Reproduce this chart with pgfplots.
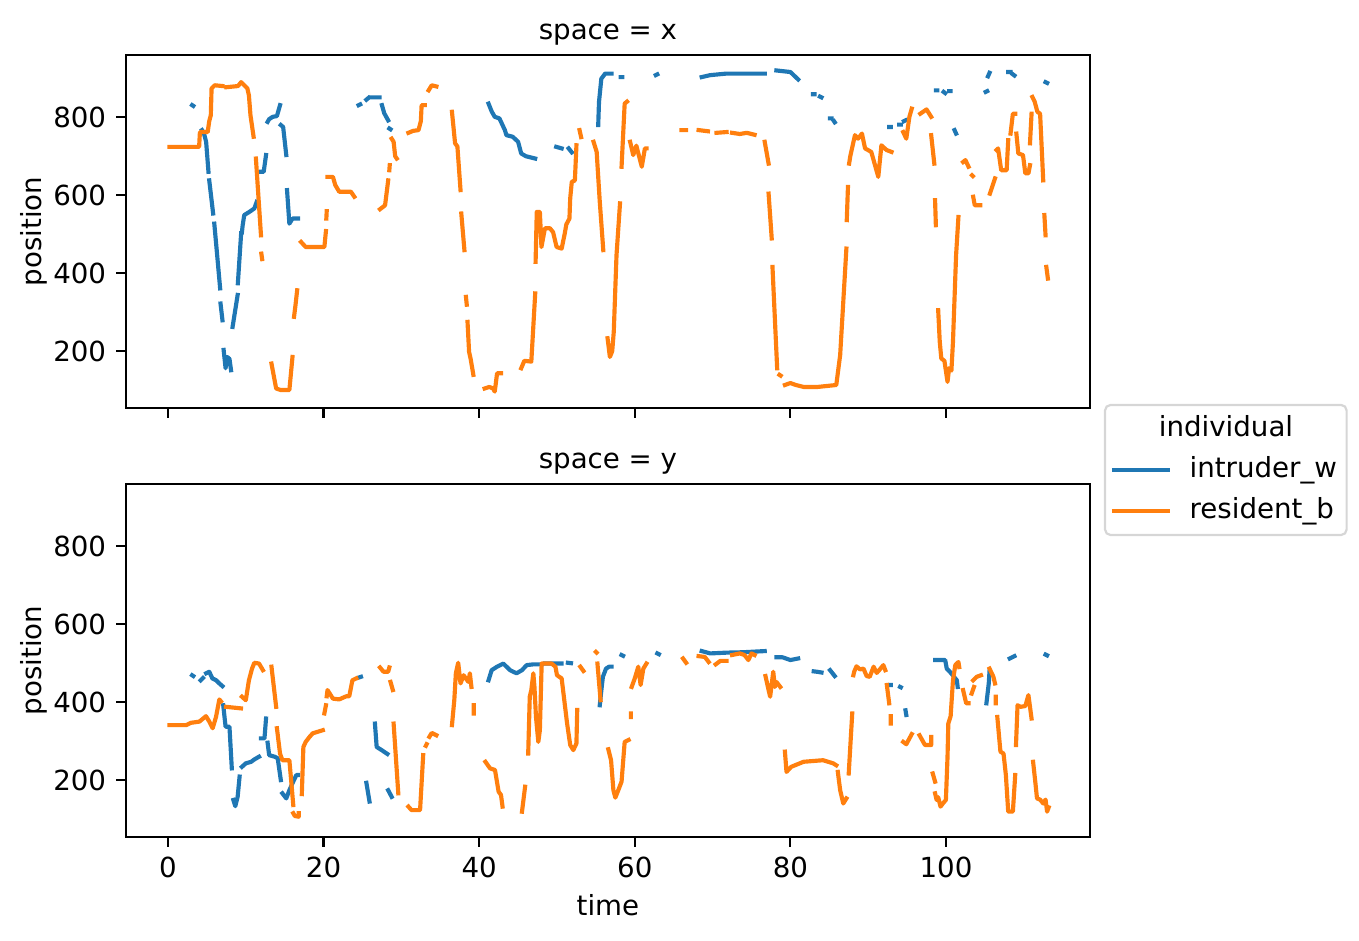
\documentclass[border=0pt]{standalone}
\usepackage{fontspec}
\setmainfont{DejaVu Sans}
\usepackage{pgfplots}
\pgfplotsset{compat=1.18}
\definecolor{C0}{HTML}{1F77B4}
\definecolor{C1}{HTML}{FF7F0E}
\definecolor{legedge}{HTML}{D6D6D6}
\pgfplotsset{
  myaxis/.style={
    scale only axis, width=348.3pt, height=127.6pt,
    xmin=-5.4, xmax=118.5, ymin=54, ymax=960,
    xtick={0,20,...,100}, ytick={200,400,600,800},
    tick align=outside, tick pos=left, major tick length=3.5pt,
    every tick/.style={black, line width=0.8pt},
    axis line style={line width=0.8pt},
    unbounded coords=jump,
    /pgf/number format/assume math mode=true,
    xticklabel style={anchor=base, inner sep=0pt, yshift=-11.13pt},
    yticklabel style={anchor=east, inner sep=0pt, xshift=-3.5pt},
    every axis y label/.style={at={(axis description cs:-0.0880,0.5)}, rotate=90, anchor=base},
    every axis title/.style={at={(axis description cs:0.5,1)}, anchor=base, yshift=5.45pt},
    ylabel={position},
  },
  bl/.style={color=C0, line width=1.5pt, line cap=rect, line join=round},
  or/.style={color=C1, line width=1.5pt, line cap=rect, line join=round},
}
\begin{document}
\begin{tikzpicture}
\path[use as bounding box] (0,0) rectangle (491.07pt,340.03pt);
% ---------------- top axis (space = x)
\begin{axis}[myaxis, at={(45.53pt,192.6pt)}, anchor=south west,
  title={space = x}, xticklabels={},
  legend cell align=left,
  legend image code/.code={\draw[#1, line cap=butt] (0pt,0pt) -- (20.96pt,0pt);},
  legend style={at={(1.0200,-0.1348)}, anchor=north west, draw=none, fill=none,
    inner sep=0pt, row sep=4.9pt, column sep=6.4pt,
    nodes={inner sep=0pt, text height=7.6pt, text depth=2.4pt}},
]
\addplot[bl] coordinates {
(3.1,831)(3.25,829)(3.3,nan)
(4.37,767)(4.6,760)(4.9,737)(5.2,660)(5.2,nan)
(5.3,638)(5.8,553)(5.8,nan)
(5.95,527)(6.3,450)(6.7,361)(6.7,nan)
(6.75,322)(7.0,279)(7,nan)
(7.15,203)(7.4,156)(7.6,185)(7.9,180)(8.1,151)(8.1,nan)
(8.3,262)(8.95,344)(9,nan)
(8.98,374)(9.4,502)(9.4,nan)
(9.5,505)(9.6,523)(9.8,549)(10.45,557)(11.1,566)(11.4,583)(11.4,nan)
(11.95,660)(12.3,660)(12.6,703)(12.6,nan)
(12.8,788)(13.0,795)(13.45,801)(14.0,803)(14.4,831)(14.4,nan)
(14.5,780)(14.8,775)(15.2,703)(15.2,nan)
(15.3,613)(15.6,527)(16.0,540)(16.7,540)(16.7,nan)
(24.5,831)(24.7,833)(24.7,nan)
(25.5,845)(25.8,850)(25.8,nan)
(26.1,851)(26.4,851)(26.4,nan)
(26.8,851)(27.2,851)(27.2,nan)
(27.5,831)(27.8,810)(28.3,792)(28.3,nan)
(28.45,771)(28.6,769)(28.6,nan)
(41.2,835)(41.6,815)(42.0,801)(42.6,797)(43.3,767)(43.5,754)(44.3,750)(45.0,737)(45.4,707)(46.0,700)(47.2,694)(47.2,nan)
(49.9,724)(50.6,720)(50.6,nan)
(51.5,720)(51.9,710)(51.9,nan)
(55.3,780)(55.4,839)(55.7,899)(56.2,912)(57.0,912)(57,nan)
(58.2,903)(58.4,903)(58.4,nan)
(62.7,908)(62.9,910)(62.9,nan)
(68.6,903)(69.7,908)(71.8,912)(74,912)(76.7,912)(76.7,nan)
(78.2,920)(80.0,916)(81.0,897)(81,nan)
(82.9,859)(83.1,859)(83.1,nan)
(83.8,853)(84.0,851)(84,nan)
(85.1,797)(85.3,797)(85.3,nan)
(85.6,790)(85.7,787)(85.7,nan)
(92.7,775)(92.9,775)(92.9,nan)
(94.0,781)(94.2,781)(94.2,nan)
(94.6,790)(94.8,792)(94.8,nan)
(98.7,869)(98.9,869)(98.9,nan)
(99.7,865)(99.9,862)(99.9,nan)
(100.4,867)(100.6,867)(100.6,nan)
(101.1,767)(101.3,758)(101.3,nan)
(105.1,865)(105.3,867)(105.3,nan)
(105.4,905)(105.6,914)(105.6,nan)
(108.0,916)(108.3,916)(108.3,nan)
(108.6,910)(108.8,907)(108.8,nan)
(112.8,890)(113.0,888)
};
\addlegendentry{intruder\_w}
\addplot[or] coordinates {
(0.17,724)(1.5,724)(2.3,724)(2.5,nan)
(2.8,724)(4.0,724)(4.1,762)(5.1,762)(5.3,790)(5.5,805)(5.6,874)(6.0,882)(7.0,880)(7.2,nan)
(7.5,877)(9.0,880)(9.4,890)(10.2,874)(10.4,856)(10.6,805)(11.0,750)(11,nan)
(11.3,694)(11.95,497)(12,nan)
(12.0,450)(12.1,436)(12.1,nan)
(13.3,168)(13.9,104)(14.5,100)(15.6,100)(16.0,185)(16,nan)
(16.2,288)(16.4,320)(16.6,356)(16.6,nan)
(17.1,480)(17.7,467)(20.1,467)(20.3,508)(20.3,nan)
(20.35,540)(20.4,559)(20.4,nan)
(20.5,647)(21.2,647)(21.5,626)(22.0,609)(23.5,609)(23.95,596)(24,nan)
(27.25,564)(27.9,574)(28.3,638)(28.3,nan)
(28.45,664)(28.5,677)(28.5,nan)
(28.75,745)(29.0,737)(29.2,700)(29.4,694)(29.4,nan)
(30.9,760)(31.5,765)(32.2,767)(32.5,790)(32.6,831)(33.0,831)(33,nan)
(33.5,869)(33.9,882)(34.5,879)(34.5,nan)
(36.5,814)(36.9,733)(37.2,725)(37.6,613)(37.6,nan)
(37.7,553)(38.1,459)(38.1,nan)
(38.3,339)(38.4,319)(38.4,nan)
(38.5,275)(38.7,198)(38.9,180)(39.25,139)(39.3,nan)
(40.7,104)(41.3,108)(41.8,104)(42.0,96)(42.3,143)(42.8,143)(42.8,nan)
(45.4,156)(45.8,175)(46.7,173)(47.2,348)(47.2,nan)
(47.25,429)(47.4,557)(47.8,557)(48.0,467)(48.45,515)(49.1,515)(49.5,505)(49.95,467)(50.6,463)(51.0,502)(51.2,525)(51.6,540)(51.7,592)(51.9,634)(52.3,638)(52.5,728)(52.5,nan)
(52.9,767)(53.1,749)(53.1,nan)
(54.7,737)(55.1,711)(55.5,583)(55.95,459)(56,nan)
(56.5,233)(56.8,185)(57.1,200)(57.3,250)(57.65,446)(58.1,579)(58.1,nan)
(58.3,673)(58.7,835)(59.0,840)(59,nan)
(59.4,737)(59.8,703)(60.2,727)(60.9,673)(61.3,720)(61.5,720)(61.5,nan)
(66.0,767)(66.6,767)(66.6,nan)
(68.2,767)(69.4,764)(69.4,nan)
(70.5,760)(71.8,762)(71.8,nan)
(72.5,760)(73.5,757)(74.4,760)(75.4,755)(75.4,nan)
(76.7,737)(77.2,681)(77.2,nan)
(77.2,604)(77.6,489)(77.6,nan)
(77.7,416)(78.3,156)(78.3,nan)
(78.6,139)(78.75,137)(78.8,nan)
(79.3,113)(80.0,118)(80.7,113)(81.7,108)(83.5,108)(85.9,113)(86.4,190)(87.2,463)(87.2,nan)
(87.25,536)(87.4,621)(87.4,nan)
(87.55,681)(87.7,700)(88.3,754)(88.7,745)(89.2,758)(89.6,720)(90.4,711)(91.3,647)(91.7,728)(92.35,716)(93.0,711)(93,nan)
(94.5,762)(94.9,745)(95.3,801)(95.6,822)(95.6,nan)
(96.7,809)(97.5,820)(98.1,801)(98.1,nan)
(98.1,754)(98.5,681)(98.5,nan)
(98.6,587)(98.7,523)(98.7,nan)
(99.0,305)(99.2,224)(99.4,181)(99.8,175)(100.2,121)(100.4,156)(100.7,150)(100.9,224)(101.3,446)(101.6,544)(101.6,nan)
(102.2,685)(102.5,690)(102.9,673)(102.9,nan)
(103.35,651)(103.45,649)(103.45,nan)
(103.5,596)(103.7,574)(104.4,574)(104.4,nan)
(105.65,604)(106.3,643)(106.3,nan)
(106.5,716)(106.7,720)(107.1,664)(107.8,664)(108.0,741)(108,nan)
(108.3,758)(108.6,809)(108.9,809)(108.9,nan)
(109.05,758)(109.3,707)(109.9,703)(110.2,656)(110.6,656)(110.8,677)(110.8,nan)
(110.8,733)(111.0,809)(111,nan)
(111.1,852)(111.4,840)(111.75,814)(112.1,809)(112.5,638)(112.5,nan)
(112.65,549)(112.8,497)(112.8,nan)
(112.9,416)(113.1,386)
};
\addlegendentry{resident\_b}
\end{axis}
% ---------------- bottom axis (space = y)
\begin{axis}[myaxis, at={(45.53pt,37.58pt)}, anchor=south west,
  title={space = y}, xlabel={time},
  every axis x label/.style={at={(axis description cs:0.5,-0.221)}, anchor=base},
]
\addplot[bl] coordinates {
(3.1,469)(3.25,467)(3.3,nan)
(4.2,456)(4.5,462)(4.5,nan)
(4.9,474)(5.3,478)(5.7,461)(6.2,456)(6.6,448)(7.0,441)(7,nan)
(7.1,392)(7.4,337)(7.9,337)(8.2,230)(8.2,nan)
(8.4,149)(8.65,133)(8.95,157)(9.2,209)(9.2,nan)
(9.5,234)(10.0,243)(10.7,247)(11.1,253)(11.7,260)(11.7,nan)
(11.95,307)(12.4,307)(12.6,358)(12.6,nan)
(12.8,296)(13.0,264)(13.7,260)(14.1,256)(14.5,200)(14.5,nan)
(14.7,166)(15.2,153)(15.6,174)(16.0,192)(16.5,213)(16.7,213)(16.7,nan)
(24.5,463)(24.8,465)(24.8,nan)
(25.5,193)(25.9,145)(25.9,nan)
(26.6,345)(26.82,285)(27.46,277)(28.2,267)(28.2,nan)
(28.3,174)(28.75,157)(28.8,nan)
(41.2,456)(41.6,482)(42.3,491)(43.1,499)(43.97,482)(44.8,474)(45.5,482)(46.1,495)(47.0,497)(48.0,497)(48,nan)
(48.5,499)(49.5,499)(49.5,nan)
(50.0,499)(50.6,499)(50.6,nan)
(51.4,501)(51.8,500)(51.8,nan)
(55.5,392)(55.7,430)(55.9,465)(56.3,486)(56.7,491)(57.0,491)(57,nan)
(58.3,521)(58.5,519)(58.5,nan)
(62.9,525)(63.1,523)(63.1,nan)
(68.6,531)(69.7,525)(71.8,527)(73.9,528)(76.7,531)(76.7,nan)
(78.2,515)(79.0,515)(80.0,508)(81.0,512)(81,nan)
(83.0,479)(83.4,478)(83.4,nan)
(83.7,477)(84.0,476)(84,nan)
(85.1,482)(85.7,467)(85.7,nan)
(92.8,444)(92.9,444)(92.9,nan)
(94.1,439)(94.2,438)(94.2,nan)
(94.8,379)(94.9,367)(94.9,nan)
(98.6,508)(99.9,508)(100.1,486)(100.5,478)(101.4,456)(101.5,439)(101.5,nan)
(105.2,397)(105.5,448)(105.6,480)(105.6,nan)
(108.2,512)(108.8,518)(108.8,nan)
(112.8,522)(113.0,520)
};
\addplot[or] coordinates {
(0.17,341)(2.32,341)(2.96,347)(4.03,350)(4.88,364)(5.31,350)(5.74,333)(6.17,362)(6.6,407)(6.8,402)(6.8,nan)
(7.45,388)(9.38,384)(9.4,nan)
(9.5,414)(10.0,405)(10.4,456)(10.8,486)(11.1,501)(11.7,499)(12.2,482)(12.2,nan)
(13.3,491)(13.9,388)(13.9,nan)
(14.0,333)(14.4,268)(14.7,251)(15.6,251)(15.9,183)(16.1,136)(16.1,nan)
(16.1,115)(16.3,108)(16.8,106)(16.8,115)(16.8,nan)
(17.2,164)(17.4,285)(17.7,298)(18.2,311)(18.6,320)(19.9,328)(19.9,nan)
(20.1,371)(20.3,392)(20.3,nan)
(20.4,415)(20.5,431)(21.2,409)(22.0,407)(22.9,415)(23.3,415)(23.7,456)(24.2,461)(24.2,nan)
(27.25,489)(27.7,478)(28.3,478)(28.45,489)(28.5,nan)
(28.6,452)(28.9,431)(28.9,nan)
(29.0,345)(29.6,166)(29.6,nan)
(30.9,132)(31.3,123)(32.4,123)(32.8,264)(32.8,nan)
(33.15,288)(33.25,292)(33.3,nan)
(33.6,311)(33.9,321)(34.5,315)(34.5,nan)
(36.5,341)(36.8,405)(37.0,474)(37.3,501)(37.6,448)(38.0,469)(38.6,452)(38.8,474)(39.0,439)(39,nan)
(39.3,392)(39.3,371)(39.3,nan)
(40.8,247)(41.4,230)(42.03,226)(42.5,170)(42.8,162)(43.0,132)(43,nan)
(45.5,119)(45.9,183)(45.9,nan)
(46.3,268)(46.5,414)(46.7,431)(46.96,474)(47.1,440)(47.3,362)(47.6,298)(47.8,328)(48.03,499)(48.5,499)(49.3,499)(49.8,491)(50.0,469)(50.6,461)(51.3,345)(51.7,290)(52.1,277)(52.5,294)(52.6,380)(52.6,nan)
(53.0,491)(53.4,480)(53.4,nan)
(55.0,529)(55.1,527)(55.1,nan)
(55.2,499)(55.6,405)(55.6,nan)
(56.6,279)(56.95,251)(57.25,174)(57.5,155)(57.8,170)(58.3,196)(58.7,298)(59.2,303)(59.2,nan)
(59.5,371)(59.5,362)(59.5,nan)
(59.6,439)(60.0,461)(60.45,491)(60.75,444)(61.1,486)(61.5,499)(61.5,nan)
(66.2,512)(66.6,501)(66.6,nan)
(68.2,518)(69.0,516)(69.5,503)(69.5,nan)
(70.4,497)(71.0,506)(71.8,506)(71.8,nan)
(72.5,521)(73.5,525)(74.1,521)(74.6,508)(75.0,525)(75.4,521)(75.4,nan)
(76.8,467)(77.2,431)(77.4,414)(77.8,478)(78.0,439)(78.2,452)(78.7,439)(78.7,nan)
(79.3,273)(79.5,221)(80.1,234)(81.7,247)(84.2,251)(85.5,243)(85.9,238)(85.9,nan)
(86.1,221)(86.4,174)(86.8,140)(87.2,153)(87.2,nan)
(87.5,217)(87.95,371)(88,nan)
(88.1,469)(88.2,478)(88.5,492)(88.95,484)(89.4,486)(89.8,467)(90.2,465)(90.7,491)(91.1,475)(91.5,484)(91.95,495)(92.2,482)(92.2,nan)
(92.4,444)(92.7,397)(92.7,nan)
(92.9,364)(92.9,345)(92.9,nan)
(94.5,298)(94.9,292)(95.6,318)(95.6,nan)
(96.6,315)(97.3,290)(98.1,290)(98.1,311)(98.1,nan)
(98.3,217)(98.6,196)(98.6,nan)
(98.6,166)(98.8,149)(99.0,156)(99.3,132)(99.6,140)(99.99,149)(100.2,260)(100.3,345)(100.6,364)(100.9,456)(101.2,495)(101.6,503)(101.7,490)(101.7,nan)
(102.2,431)(102.6,397)(102.9,397)(102.9,nan)
(103.3,422)(103.6,439)(103.6,nan)
(103.5,456)(103.95,465)(104.5,469)(104.5,nan)
(105.6,486)(106.1,465)(106.3,448)(106.3,nan)
(106.4,414)(106.4,397)(106.4,nan)
(106.6,362)(107.0,273)(107.4,268)(107.7,213)(108.0,119)(108.6,119)(108.9,213)(108.9,nan)
(109.0,290)(109.2,392)(109.6,388)(110.2,390)(110.6,418)(111.0,358)(111,nan)
(111.2,247)(111.5,192)(111.7,153)(112.1,150)(112.5,140)(112.8,150)(113.0,119)(113.2,130)
};
\end{axis}
% legend title and frame
\node[anchor=base, inner sep=0pt] at (443.0pt,182.2pt) {individual};
\draw[legedge, line width=0.8pt, rounded corners=2pt] (399.3pt,146.7pt) rectangle (486.6pt,193.7pt);
\end{tikzpicture}
\end{document}
